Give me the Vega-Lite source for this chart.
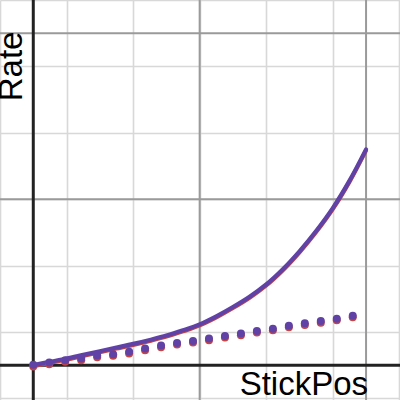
{
  "$schema": "https://vega.github.io/schema/vega-lite/v6.json",
  "width": 400,
  "height": 400,
  "autosize": {"type": "none"},
  "padding": 0,
  "background": "white",
  "config": {"view": {"stroke": null}},
  "datasets": {
    "curve": [
      {"x": 0, "y": -0.03, "s": "red"}, {"x": 0.5, "y": 0.07, "s": "red"}, {"x": 1, "y": 0.17, "s": "red"}, {"x": 1.5, "y": 0.28, "s": "red"}, {"x": 2, "y": 0.39, "s": "red"}, {"x": 2.5, "y": 0.5, "s": "red"}, {"x": 3, "y": 0.61, "s": "red"}, {"x": 3.5, "y": 0.73, "s": "red"}, {"x": 4, "y": 0.86, "s": "red"}, {"x": 4.5, "y": 1.02, "s": "red"}, {"x": 5, "y": 1.2, "s": "red"}, {"x": 5.5, "y": 1.44, "s": "red"}, {"x": 6, "y": 1.72, "s": "red"}, {"x": 6.5, "y": 2.03, "s": "red"}, {"x": 7, "y": 2.4, "s": "red"}, {"x": 7.5, "y": 2.86, "s": "red"}, {"x": 8, "y": 3.4, "s": "red"}, {"x": 8.5, "y": 4.01, "s": "red"}, {"x": 9, "y": 4.7, "s": "red"}, {"x": 9.5, "y": 5.52, "s": "red"}, {"x": 10, "y": 6.47, "s": "red"},
      {"x": 0, "y": 0, "s": "purple"}, {"x": 0.5, "y": 0.1, "s": "purple"}, {"x": 1, "y": 0.2, "s": "purple"}, {"x": 1.5, "y": 0.31, "s": "purple"}, {"x": 2, "y": 0.42, "s": "purple"}, {"x": 2.5, "y": 0.53, "s": "purple"}, {"x": 3, "y": 0.64, "s": "purple"}, {"x": 3.5, "y": 0.76, "s": "purple"}, {"x": 4, "y": 0.89, "s": "purple"}, {"x": 4.5, "y": 1.05, "s": "purple"}, {"x": 5, "y": 1.23, "s": "purple"}, {"x": 5.5, "y": 1.47, "s": "purple"}, {"x": 6, "y": 1.75, "s": "purple"}, {"x": 6.5, "y": 2.06, "s": "purple"}, {"x": 7, "y": 2.43, "s": "purple"}, {"x": 7.5, "y": 2.89, "s": "purple"}, {"x": 8, "y": 3.43, "s": "purple"}, {"x": 8.5, "y": 4.04, "s": "purple"}, {"x": 9, "y": 4.73, "s": "purple"}, {"x": 9.5, "y": 5.55, "s": "purple"}, {"x": 10, "y": 6.5, "s": "purple"}
    ],
    "dots": [
      {"x": 0, "y": -0.04, "s": "red"}, {"x": 0.48, "y": 0.03, "s": "red"}, {"x": 0.96, "y": 0.1, "s": "red"}, {"x": 1.44, "y": 0.15, "s": "red"}, {"x": 1.92, "y": 0.24, "s": "red"}, {"x": 2.4, "y": 0.28, "s": "red"}, {"x": 2.88, "y": 0.35, "s": "red"}, {"x": 3.36, "y": 0.45, "s": "red"}, {"x": 3.84, "y": 0.54, "s": "red"}, {"x": 4.32, "y": 0.62, "s": "red"}, {"x": 4.8, "y": 0.68, "s": "red"}, {"x": 5.28, "y": 0.75, "s": "red"}, {"x": 5.76, "y": 0.83, "s": "red"}, {"x": 6.24, "y": 0.9, "s": "red"}, {"x": 6.72, "y": 0.98, "s": "red"}, {"x": 7.2, "y": 1.05, "s": "red"}, {"x": 7.68, "y": 1.14, "s": "red"}, {"x": 8.16, "y": 1.21, "s": "red"}, {"x": 8.64, "y": 1.28, "s": "red"}, {"x": 9.12, "y": 1.35, "s": "red"}, {"x": 9.6, "y": 1.44, "s": "red"},
      {"x": 0, "y": 0.01, "s": "purple"}, {"x": 0.48, "y": 0.08, "s": "purple"}, {"x": 0.96, "y": 0.15, "s": "purple"}, {"x": 1.44, "y": 0.2, "s": "purple"}, {"x": 1.92, "y": 0.29, "s": "purple"}, {"x": 2.4, "y": 0.33, "s": "purple"}, {"x": 2.88, "y": 0.4, "s": "purple"}, {"x": 3.36, "y": 0.5, "s": "purple"}, {"x": 3.84, "y": 0.59, "s": "purple"}, {"x": 4.32, "y": 0.67, "s": "purple"}, {"x": 4.8, "y": 0.73, "s": "purple"}, {"x": 5.28, "y": 0.8, "s": "purple"}, {"x": 5.76, "y": 0.88, "s": "purple"}, {"x": 6.24, "y": 0.95, "s": "purple"}, {"x": 6.72, "y": 1.03, "s": "purple"}, {"x": 7.2, "y": 1.1, "s": "purple"}, {"x": 7.68, "y": 1.19, "s": "purple"}, {"x": 8.16, "y": 1.26, "s": "purple"}, {"x": 8.64, "y": 1.33, "s": "purple"}, {"x": 9.12, "y": 1.4, "s": "purple"}, {"x": 9.6, "y": 1.49, "s": "purple"}
    ],
    "major": [
      {"v": 5}, {"v": 10}
    ],
    "axes": [
      {"v": 0}
    ],
    "labels": [
      {"x": 10.06, "y": -0.9, "t": "StickPos", "a": 0},
      {"x": -0.35, "y": 10.05, "t": "Rate", "a": 270}
    ]
  },
  "layer": [
    {
      "data": {"name": "major"},
      "mark": {"type": "rule", "color": "#9a9a9a", "strokeWidth": 2},
      "encoding": {
        "x": {"field": "v", "type": "quantitative", "scale": {"domain": [-1, 11.02], "nice": false, "zero": false},
          "axis": {"values": [-1, 0, 1, 2, 3, 4, 5, 6, 7, 8, 9, 10, 11], "grid": true, "gridColor": "#d8d8d8", "gridWidth": 1.6, "domain": false, "ticks": false, "labels": false, "title": null}}
      }
    },
    {
      "data": {"name": "major"},
      "mark": {"type": "rule", "color": "#9a9a9a", "strokeWidth": 2},
      "encoding": {
        "y": {"field": "v", "type": "quantitative", "scale": {"domain": [-1.05, 11.0], "nice": false, "zero": false},
          "axis": {"values": [-1, 0, 1, 2, 3, 4, 5, 6, 7, 8, 9, 10, 11], "grid": true, "gridColor": "#d8d8d8", "gridWidth": 1.6, "domain": false, "ticks": false, "labels": false, "title": null}}
      }
    },
    {
      "data": {"name": "axes"},
      "mark": {"type": "rule", "color": "#222222", "strokeWidth": 3},
      "encoding": {"x": {"field": "v", "type": "quantitative"}}
    },
    {
      "data": {"name": "axes"},
      "mark": {"type": "rule", "color": "#222222", "strokeWidth": 3},
      "encoding": {"y": {"field": "v", "type": "quantitative"}}
    },
    {
      "data": {"name": "curve"},
      "mark": {"type": "line", "strokeWidth": 4.2, "strokeCap": "round", "interpolate": "catmull-rom"},
      "encoding": {
        "x": {"field": "x", "type": "quantitative"},
        "y": {"field": "y", "type": "quantitative"},
        "color": {"field": "s", "type": "nominal", "scale": {"domain": ["red", "purple"], "range": ["#c74440", "#6042a6"]}, "legend": null},
        "order": {"field": "x"}
      }
    },
    {
      "data": {"name": "dots"},
      "mark": {"type": "circle", "size": 64, "opacity": 1},
      "encoding": {
        "x": {"field": "x", "type": "quantitative"},
        "y": {"field": "y", "type": "quantitative"},
        "color": {"field": "s", "type": "nominal", "scale": {"domain": ["red", "purple"], "range": ["#c74440", "#6042a6"]}, "legend": null},
        "order": {"field": "s", "sort": "descending"}
      }
    },
    {
      "data": {"name": "labels"},
      "mark": {"type": "text", "font": "Liberation Sans", "fontSize": 33, "align": "right", "baseline": "alphabetic", "color": "#000000"},
      "encoding": {
        "x": {"field": "x", "type": "quantitative"},
        "y": {"field": "y", "type": "quantitative"},
        "text": {"field": "t"},
        "angle": {"field": "a", "type": "quantitative", "scale": null}
      }
    }
  ]
}
